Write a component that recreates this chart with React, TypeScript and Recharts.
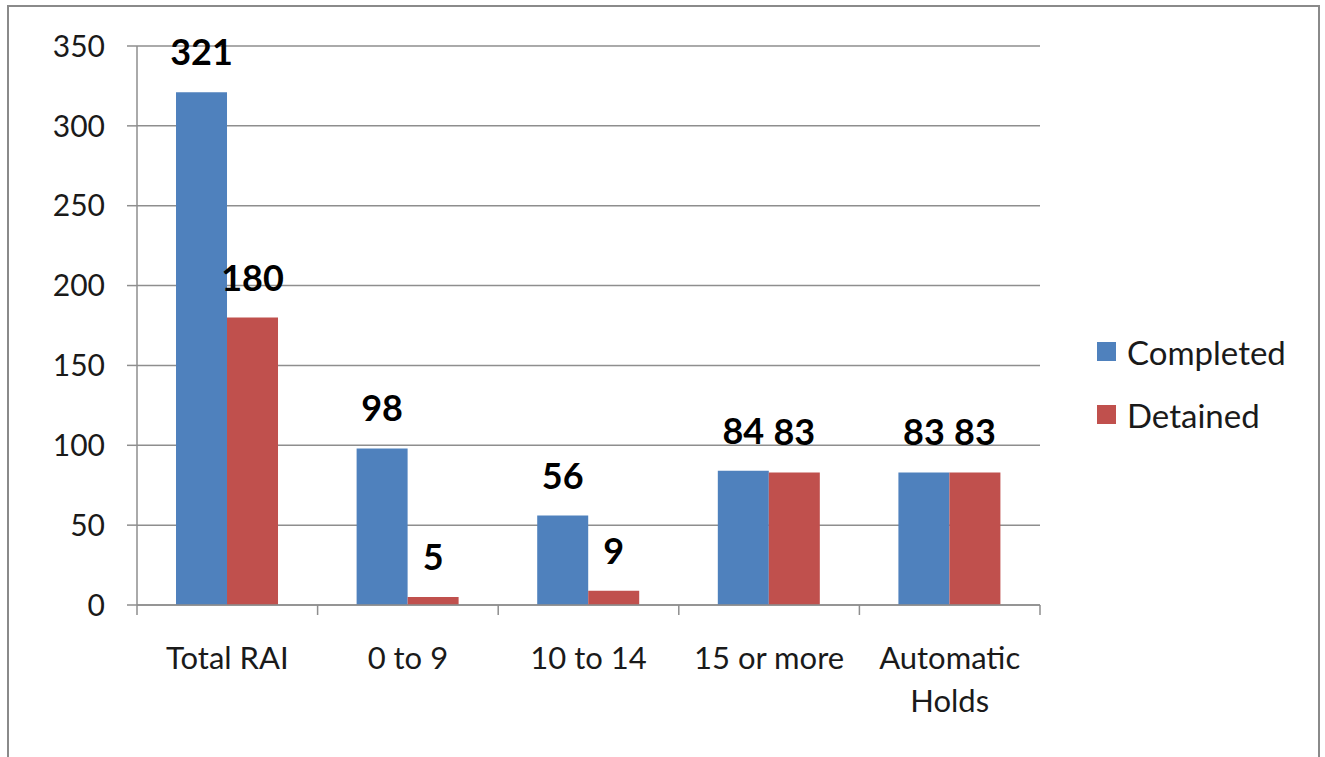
import { BarChart, Bar, XAxis, YAxis, CartesianGrid, Legend, LabelList } from 'recharts'

const categories = ['Total RAI', '0 to 9', '10 to 14', '15 or more', 'Automatic Holds']
const completed = [321, 98, 56, 84, 83]
const detained = [180, 5, 9, 83, 83]
const yTicks = [0, 50, 100, 150, 200, 250, 300, 350]

const BLUE = '#4f81bd'
const RED = '#c0504d'
const GRID = '#8e8e8e'
const FONT = 'Lato, "Open Sans", sans-serif'
const TICK_MARGIN = 42

const data = categories.map((name, i) => ({
  name,
  Completed: completed[i],
  Detained: detained[i],
}))

// long labels go on two lines, like the original
function splitLabel(s: string): string[] {
  if (s.length <= 12 || s.indexOf(' ') < 0) return [s]
  const i = s.lastIndexOf(' ')
  return [s.slice(0, i), s.slice(i + 1)]
}

function CategoryTick(props: any) {
  const { x, y, payload, width, visibleTicksCount, index } = props
  const half = payload.offset || width / visibleTicksCount / 2
  const axisY = y - TICK_MARGIN
  const lines = splitLabel(String(payload.value))
  return (
    <g>
      <line x1={x - half} x2={x - half} y1={axisY} y2={axisY + 10} stroke={GRID} strokeWidth={1.5} />
      {index === visibleTicksCount - 1 && (
        <line x1={x + half} x2={x + half} y1={axisY} y2={axisY + 10} stroke={GRID} strokeWidth={1.5} />
      )}
      <text x={x} y={y + 22} textAnchor="middle" fontSize={31} fontFamily={FONT} fill="#1a1a1a">
        {lines.map((l, i) => (
          <tspan key={i} x={x} dy={i === 0 ? 0 : 43}>
            {l}
          </tspan>
        ))}
      </text>
    </g>
  )
}

function renderLegend() {
  const items = [
    { label: 'Completed', color: BLUE },
    { label: 'Detained', color: RED },
  ]
  return (
    <div style={{ fontFamily: FONT, fontSize: 33, color: '#1a1a1a' }}>
      {items.map(it => (
        <div key={it.label} style={{ display: 'flex', alignItems: 'center', height: 63 }}>
          <span style={{ width: 19, height: 19, background: it.color, marginRight: 11, display: 'inline-block' }} />
          {it.label}
        </div>
      ))}
    </div>
  )
}

export default function App() {
  return (
    <div style={{ position: 'absolute', left: 0, top: 0, width: 1325, height: 757, background: '#fff', overflow: 'hidden' }}>
      <div
        style={{
          position: 'absolute',
          left: 7,
          top: 5,
          width: 1309,
          height: 800,
          border: '2px solid #8a8a8a',
        }}
      />
      <div style={{ position: 'absolute', left: 0, top: 0 }}>
        <BarChart
          width={1325}
          height={757}
          data={data}
          margin={{ top: 46, right: 285, left: 0, bottom: 0 }}
          barCategoryGap="21.6%"
          barGap={0}
        >
          <CartesianGrid vertical={false} stroke={GRID} strokeWidth={1.5} />
          <XAxis
            dataKey="name"
            height={152}
            axisLine={{ stroke: GRID, strokeWidth: 1.5 }}
            tickLine={false}
            tickSize={0}
            tickMargin={TICK_MARGIN}
            interval={0}
            tick={<CategoryTick />}
          />
          <YAxis
            width={137}
            domain={[0, 350]}
            ticks={yTicks}
            axisLine={{ stroke: GRID, strokeWidth: 1.5 }}
            tickLine={{ stroke: GRID, strokeWidth: 1.5 }}
            tickSize={10}
            tickMargin={22}
            tick={{ fontSize: 30, fontFamily: FONT, fill: '#1a1a1a' }}
          />
          <Legend
            layout="vertical"
            align="center"
            verticalAlign="middle"
            content={renderLegend}
            wrapperStyle={{ position: 'absolute', left: 1097, top: 320, width: 228 }}
          />
          <Bar dataKey="Completed" fill={BLUE} isAnimationActive={false}>
            <LabelList dataKey="Completed" position="top" offset={27} fontSize={36} fontWeight="bold" fontFamily={FONT} fill="#000" />
          </Bar>
          <Bar dataKey="Detained" fill={RED} isAnimationActive={false}>
            <LabelList dataKey="Detained" position="top" offset={27} fontSize={36} fontWeight="bold" fontFamily={FONT} fill="#000" />
          </Bar>
        </BarChart>
      </div>
    </div>
  )
}
